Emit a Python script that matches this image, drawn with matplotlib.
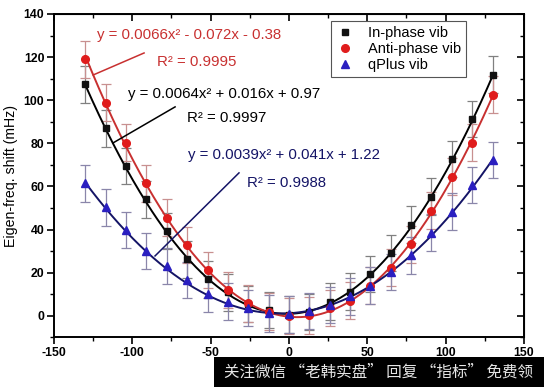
import numpy as np
import matplotlib
matplotlib.use('Agg')
from matplotlib import pyplot as plt
from matplotlib import rcParams

rcParams['font.family'] = ['Liberation Sans', 'DejaVu Sans']
rcParams['axes.unicode_minus'] = False

# %% data
x_vals = [-130, -117, -104, -91, -78, -65, -52, -39, -26, -13, 0,
          13, 26, 39, 52, 65, 78, 91, 104, 117, 130]
in_phase = [107.4, 87.0, 69.5, 54.1, 39.4, 26.3, 17.0, 11.0, 5.5, 2.8, 0.5,
            1.8, 6.6, 11.3, 19.5, 29.2, 42.3, 55.3, 72.8, 91.3, 111.9]
anti_phase = [119.0, 98.9, 80.3, 61.5, 45.6, 32.9, 21.3, 12.0, 5.9, 2.0, 0.0,
              0.3, 3.6, 7.0, 14.0, 22.4, 33.2, 48.8, 64.6, 80.3, 102.5]
qplus = [61.5, 50.4, 39.9, 30.1, 23.2, 16.7, 10.2, 6.6, 3.6, 1.2, 0.8,
         2.3, 5.1, 9.0, 14.0, 20.4, 28.1, 38.6, 48.4, 60.7, 72.3]
err = 8.5

# quadratic fits as printed on the chart
fit_in = [0.0064, 0.016, 0.97]
fit_anti = [0.0066, -0.072, -0.38]
fit_q = [0.0039, 0.041, 1.22]

labels = ['In-phase vib', 'Anti-phase vib', 'qPlus vib']
eq_texts = ['y = 0.0064x\u00b2 + 0.016x + 0.97',
            'y = 0.0066x\u00b2 - 0.072x - 0.38',
            'y = 0.0039x\u00b2 + 0.041x + 1.22']
r2_texts = ['R\u00b2 = 0.9997', 'R\u00b2 = 0.9995', 'R\u00b2 = 0.9988']

# %% figure
fig = plt.figure(figsize=(5.44, 3.87), dpi=100)
ax = fig.add_axes([0.0993, 0.128, 0.8637, 0.836])

series = [
    (in_phase, fit_in, 's', '#111111', '#000000', '#808080'),
    (anti_phase, fit_anti, 'o', '#e01c1c', '#c83030', '#c89090'),
    (qplus, fit_q, '^', '#2a1fc0', '#141466', '#8a86aa'),
]

xf = np.linspace(min(x_vals), max(x_vals), 300)
handles = []
for (yv, coef, mk, mcol, lcol, ecol), lab in zip(series, labels):
    ax.errorbar(x_vals, yv, yerr=err, fmt='none', ecolor=ecol, elinewidth=0.9,
                capsize=3.5, capthick=0.9, zorder=2)
    ax.plot(xf, np.polyval(coef, xf), color=lcol, lw=1.4, zorder=3)
    h, = ax.plot(x_vals, yv, linestyle='none', marker=mk, color=mcol,
                 markersize=5.5 if mk != 's' else 5, zorder=4, label=lab)
    handles.append(h)

fs = 10.8
# annotation texts and leader lines
ax.text(-122.5, 130.3, eq_texts[1], color='#c83030', fontsize=fs, ha='left', va='center')
ax.text(-84.2, 117.8, r2_texts[1], color='#c83030', fontsize=fs, ha='left', va='center')
ax.plot([-92.5, -125], [121.9, 111.7], color='#c83030', lw=1.1, zorder=3)

ax.text(-102.7, 102.9, eq_texts[0], color='black', fontsize=fs, ha='left', va='center')
ax.text(-65.1, 91.8, r2_texts[0], color='black', fontsize=fs, ha='left', va='center')
ax.plot([-72.7, -112.3], [96.9, 80.2], color='black', lw=1.1, zorder=3)

ax.text(-64.5, 74.6, eq_texts[2], color='#141466', fontsize=fs, ha='left', va='center')
ax.text(-26.8, 61.7, r2_texts[2], color='#141466', fontsize=fs, ha='left', va='center')
ax.plot([-31.9, -85.5], [66.3, 27.8], color='#141466', lw=1.1, zorder=3)

# axes
ax.set_xlim(-150, 150)
ax.set_ylim(-10, 140)
ax.set_xticks(np.arange(-150, 151, 50))
ax.set_xticks(np.arange(-125, 150, 50), minor=True)
ax.set_yticks(np.arange(0, 141, 20))
ax.set_yticks(np.arange(-10, 141, 20), minor=True)
ax.tick_params(which='major', direction='out', length=5, width=1.2, labelsize=8.8, pad=2)
ax.tick_params(which='minor', direction='out', length=3, width=1.0)
for lab in ax.get_xticklabels() + ax.get_yticklabels():
    lab.set_fontweight('bold')
for sp in ax.spines.values():
    sp.set_linewidth(1.4)
ax.set_ylabel('Eigen-freq. shift (mHz)', fontsize=10.2, labelpad=4)

# mirrored ticks pointing in on top and right
top = ax.secondary_xaxis('top')
top.set_xticks(np.arange(-150, 151, 50))
top.set_xticks(np.arange(-125, 150, 50), minor=True)
top.tick_params(which='major', direction='in', length=5, width=1.2, labeltop=False)
top.tick_params(which='minor', direction='in', length=3, width=1.0)
right = ax.secondary_yaxis('right')
right.set_yticks(np.arange(0, 141, 20))
right.set_yticks(np.arange(-10, 141, 20), minor=True)
right.tick_params(which='major', direction='in', length=5, width=1.2, labelright=False)
right.tick_params(which='minor', direction='in', length=3, width=1.0)

leg = ax.legend(handles=handles, loc='upper left', bbox_to_anchor=(0.608, 0.946),
                bbox_transform=fig.transFigure, fontsize=10.5, frameon=True, fancybox=False,
                edgecolor='#555555', framealpha=1, borderpad=0.35, labelspacing=0.15,
                handlelength=1.3, handletextpad=0.9, borderaxespad=0)
leg.get_frame().set_linewidth(0.8)

# watermark banner at the bottom
fig.patches.append(plt.Rectangle((214 / 544, 0), 330 / 544, 30 / 387, transform=fig.transFigure,
                                 facecolor='black', edgecolor='none', zorder=5))
fig.text(0.411, 0.5 * 30 / 387, '关注微信 “老韩实盘” 回复 “指标” 免费领', color='#e6e6e6',
         fontsize=11.2, family=['Noto Sans CJK SC', 'DejaVu Sans'], ha='left', va='center', zorder=6)

fig.savefig('out.png', dpi=100)
